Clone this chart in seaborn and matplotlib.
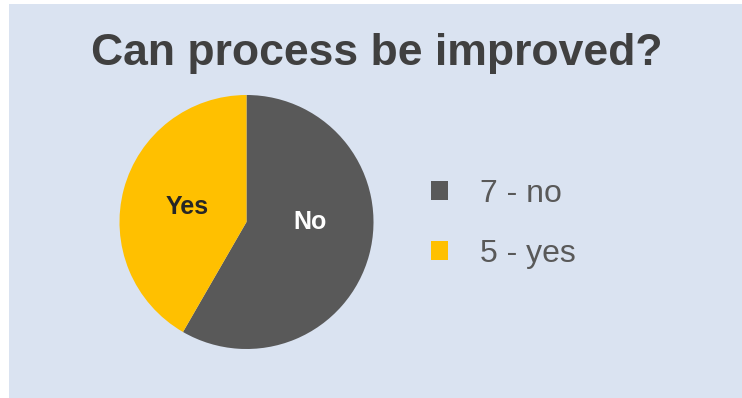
import matplotlib
matplotlib.use("Agg")
import matplotlib.pyplot as plt
import seaborn as sns
from matplotlib.patches import Rectangle

categories = ["No", "Yes"]
values = [7, 5]
legend_labels = ["7 - no", "5 - yes"]
title = "Can process be improved?"

sns.set_theme(style="white")
plt.rcParams["font.family"] = ["Liberation Sans", "DejaVu Sans"]

colors = ["#595959", "#FFC000"]
bg = "#DAE3F1"
W, H = 742, 398
fig = plt.figure(figsize=(W / 100, H / 100), dpi=100, facecolor="white")
fig.patches.append(Rectangle((9 / W, 0), 1 - 9 / W, (H - 4) / H, transform=fig.transFigure,
                             facecolor=bg, edgecolor="none", zorder=-5))

fig.text(377 / W, 1 - 54 / H, title, ha="center", va="center", fontsize=32,
         fontweight="bold", color="#404040")

ax = fig.add_axes([119.5 / W, (H - 349) / H, 254 / W, 254 / H])
ax.set_facecolor("none")
wedges, texts = ax.pie(values, labels=categories, colors=colors, startangle=90,
                       counterclock=False, labeldistance=0.48,
                       textprops=dict(fontsize=18, fontweight="bold"),
                       wedgeprops=dict(linewidth=0))
for t in texts:
    t.set_ha("center")
    t.set_va("center")
texts[0].set_color("white")
texts[0].set_position((0.5, 0.0))
texts[1].set_color("#262626")
texts[1].set_position((-0.47, 0.12))
ax.set_xlim(-1, 1)
ax.set_ylim(-1, 1)
ax.axis("off")

leg = fig.legend(wedges, legend_labels, loc="center left",
                 bbox_to_anchor=(402 / W, 1 - 224 / H), frameon=False,
                 fontsize=23, handlelength=0.55, handleheight=0.55,
                 handletextpad=1.0, labelspacing=0.95)
for t in leg.get_texts():
    t.set_color("#595959")

fig.savefig("out.png", dpi=100, facecolor="white")
